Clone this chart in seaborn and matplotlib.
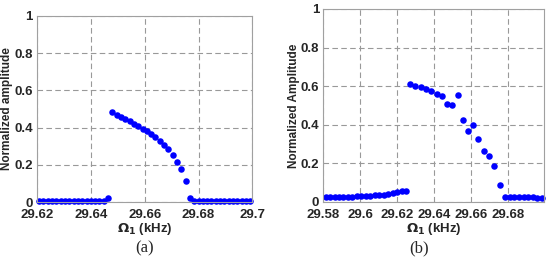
import matplotlib
matplotlib.use("Agg")
import matplotlib.pyplot as plt
import seaborn as sns

# panel (a) sweep
a_freq = [29.6208, 29.6224, 29.6240, 29.6256, 29.6272, 29.6288, 29.6304, 29.6320,
          29.6336, 29.6352, 29.6368, 29.6384, 29.6400, 29.6416, 29.6432, 29.6448,
          29.6464,
          29.6480, 29.6496, 29.6512, 29.6528, 29.6544, 29.6560, 29.6576, 29.6592,
          29.6608, 29.6624, 29.6640, 29.6656, 29.6672, 29.6688, 29.6704, 29.6720,
          29.6736, 29.6752,
          29.6768,
          29.6784, 29.6800, 29.6816, 29.6832, 29.6848, 29.6864, 29.6880, 29.6896,
          29.6912, 29.6928, 29.6944, 29.6960, 29.6976, 29.6992]
a_amp = [0.007, 0.007, 0.007, 0.007, 0.007, 0.007, 0.007, 0.007,
         0.007, 0.007, 0.007, 0.007, 0.007, 0.007, 0.007, 0.007,
         0.025,
         0.484, 0.468, 0.457, 0.446, 0.434, 0.421, 0.407, 0.394,
         0.381, 0.366, 0.351, 0.330, 0.308, 0.283, 0.254, 0.218,
         0.177, 0.114,
         0.022,
         0.007, 0.007, 0.007, 0.007, 0.007, 0.007, 0.007, 0.007,
         0.007, 0.007, 0.007, 0.007, 0.007, 0.007]
a_ticks = [29.62, 29.64, 29.66, 29.68, 29.7]
a_ticklabels = ["29.62", "29.64", "29.66", "29.68", "29.7"]

# panel (b) sweep
b_freq = [29.5813, 29.5837, 29.5861, 29.5885, 29.5909, 29.5934, 29.5958, 29.5982,
          29.6006, 29.6030, 29.6055, 29.6079, 29.6103, 29.6127, 29.6151, 29.6176,
          29.6200, 29.6224, 29.6248,
          29.6270, 29.6299, 29.6328, 29.6357, 29.6384, 29.6415, 29.6442, 29.6471,
          29.6500, 29.6529, 29.6556, 29.6585, 29.6614, 29.6641, 29.6670, 29.6699,
          29.6728, 29.6757,
          29.6786, 29.6811, 29.6836, 29.6861, 29.6886, 29.6910, 29.6935, 29.6960,
          29.6985]
b_amp = [0.022, 0.022, 0.023, 0.023, 0.024, 0.025, 0.026, 0.027,
         0.028, 0.030, 0.031, 0.033, 0.035, 0.037, 0.040, 0.044,
         0.048, 0.053, 0.058,
         0.611, 0.602, 0.594, 0.585, 0.574, 0.560, 0.550, 0.509,
         0.500, 0.555, 0.426, 0.365, 0.400, 0.325, 0.265, 0.237,
         0.185, 0.087,
         0.024, 0.024, 0.023, 0.023, 0.022, 0.022, 0.022, 0.021,
         0.021]
b_ticks = [29.58, 29.6, 29.62, 29.64, 29.66, 29.68]
b_ticklabels = ["29.58", "29.6", "29.62", "29.64", "29.66", "29.68"]

y_ticks = [0, 0.2, 0.4, 0.6, 0.8, 1]
y_ticklabels = ["0", "0.2", "0.4", "0.6", "0.8", "1"]

sns.set_style("white")
plt.rcParams['font.family'] = ['Liberation Sans', 'DejaVu Sans']

fig = plt.figure(figsize=(5.5, 2.63), dpi=100)
ax_a = fig.add_axes([0.0673, 0.2308, 0.3915, 0.7095])
ax_b = fig.add_axes([0.5878, 0.2331, 0.4018, 0.7327])


def style_axes(ax, ticks, ticklabels, xlim, ylabel, ylab_x):
    ax.set_xlim(*xlim)
    ax.set_ylim(0, 1)
    ax.set_xticks(ticks)
    ax.set_xticklabels(ticklabels, fontsize=9.5, fontweight='bold')
    ax.set_yticks(y_ticks)
    ax.set_yticklabels(y_ticklabels, fontsize=9.5, fontweight='bold')
    ax.tick_params(axis='x', length=0, pad=5)
    ax.tick_params(axis='y', length=0, pad=3)
    ax.grid(True, linestyle=(0, (5, 3)), color='#999999', linewidth=0.8)
    ax.set_axisbelow(True)
    for sp in ax.spines.values():
        sp.set_color('#a0a0a0')
        sp.set_linewidth(0.8)
    ax.set_xlabel(r'$\mathbf{\Omega_1}$ (kHz)', fontsize=9.5, fontweight='bold', labelpad=0)
    ax.set_ylabel(ylabel, fontsize=8.5, fontweight='bold')
    ax.yaxis.set_label_coords(ylab_x, 0.5)


sns.scatterplot(x=a_freq, y=a_amp, ax=ax_a, color='#0000ff', s=22, linewidth=0, clip_on=False)
style_axes(ax_a, a_ticks, a_ticklabels, (29.62, 29.7), "Normalized amplitude", -0.111)

sns.scatterplot(x=b_freq, y=b_amp, ax=ax_b, color='#0000ff', s=22, linewidth=0, clip_on=False)
style_axes(ax_b, b_ticks, b_ticklabels, (29.58, 29.6998), "Normalized Amplitude", -0.105)

fig.text(0.262, 0.057, "(a)", fontsize=12, family='Liberation Serif', ha='center', va='center')
fig.text(0.762, 0.057, "(b)", fontsize=12, family='Liberation Serif', ha='center', va='center')

fig.savefig("out.png", dpi=100)
